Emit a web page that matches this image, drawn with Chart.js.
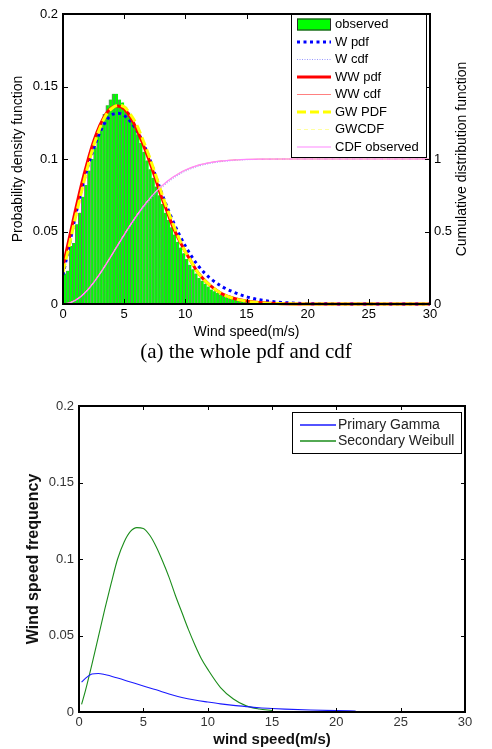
<!DOCTYPE html>
<html><head><meta charset="utf-8">
<script src="https://cdn.jsdelivr.net/npm/chart.js@4/dist/chart.umd.min.js"></script>
<style>
html,body{margin:0;padding:0;background:#fff;width:492px;height:749px;overflow:hidden;}
#c1wrap{position:absolute;left:0;top:0;width:492px;height:345px;}
#c2wrap{position:absolute;left:0;top:370px;width:492px;height:379px;}
#cap{position:absolute;left:0;width:492px;top:340px;text-align:center;font-family:'Liberation Serif','Times New Roman',serif;font-size:21px;line-height:23px;color:#000;}
</style></head><body>
<div id="c1wrap"><canvas id="c1" width="492" height="345"></canvas></div>
<div id="cap">(a) the whole pdf and cdf</div>
<div id="c2wrap"><canvas id="c2" width="492" height="379"></canvas></div>
<script>
// ---------- DATA (top chart) ----------
const histCenters = [0.125,0.375,0.625,0.875,1.125,1.375,1.625,1.875,2.125,2.375,2.625,2.875,3.125,3.375,3.625,3.875,
  4.125,4.375,4.625,4.875,5.125,5.375,5.625,5.875,6.125,6.375,6.625,6.875,7.125,7.375,7.625,7.875,
  8.125,8.375,8.625,8.875,9.125,9.375,9.625,9.875,10.125,10.375,10.625,10.875,11.125,11.375,11.625,11.875,
  12.125,12.375,12.625,12.875,13.125,13.375,13.625,13.875,14.125,14.375,14.625,14.875,15.125,15.375,15.625,15.875,
  16.125,16.375,16.625,16.875,17.125,17.375,17.625,17.875];
const observed = [0.021,0.023,0.040,0.042,0.055,0.063,0.074,0.082,0.092,0.100,0.108,0.116,0.124,0.131,0.137,0.141,
  0.145,0.145,0.141,0.139,0.136,0.132,0.127,0.122,0.117,0.111,0.105,0.099,0.093,0.087,0.081,0.075,
  0.069,0.063,0.058,0.053,0.048,0.043,0.039,0.035,0.031,0.027,0.024,0.021,0.018,0.016,0.014,0.012,
  0.010,0.0088,0.0076,0.0065,0.0055,0.0047,0.004,0.0034,0.0029,0.0024,0.002,0.0017,0.0014,0.0012,0.001,0.0008,
  0.0007,0.0006,0.0005,0.0004,0.0003,0.0003,0.0002,0.0002];

const pdfX  = [0,0.5,1,1.5,2,2.5,3,3.5,4,4.5,5,5.5,6,6.5,7,7.5,8,8.5,9,9.5,10,10.5,11,11.5,12,13,14,15,16,17,18,20,22,25,30];
const wPdf  = [0.020,0.040,0.060,0.078,0.094,0.107,0.118,0.126,0.1305,0.1315,0.130,0.126,0.120,0.112,0.102,0.090,0.078,0.067,0.057,0.048,0.040,0.033,0.027,0.022,0.018,0.012,0.008,0.005,0.003,0.0018,0.001,0.0003,0.0001,0,0];
const wwPdf = [0.026,0.045,0.064,0.082,0.098,0.112,0.123,0.131,0.1355,0.1365,0.1345,0.129,0.121,0.111,0.100,0.088,0.075,0.064,0.053,0.044,0.036,0.029,0.022,0.017,0.013,0.007,0.0038,0.002,0.001,0.0005,0.0002,0.00005,0,0,0];
const gwPdf = [0.022,0.040,0.059,0.077,0.094,0.109,0.121,0.130,0.135,0.137,0.136,0.131,0.124,0.114,0.103,0.091,0.078,0.066,0.055,0.045,0.036,0.029,0.022,0.017,0.013,0.007,0.0037,0.0019,0.0009,0.0004,0.0002,0,0,0,0];

const cdfX        = [0,0.5,1,1.5,2,2.5,3,3.5,4,4.5,5,5.5,6,6.5,7,7.5,8,8.5,9,9.5,10,11,12,13,14,15,16,18,20,25,30];
const cdfObserved = [0,0.006,0.024,0.054,0.095,0.146,0.205,0.27,0.338,0.408,0.476,0.543,0.606,0.665,0.718,0.766,0.808,0.845,0.876,0.902,0.924,0.956,0.975,0.987,0.993,0.997,0.999,1,1,1,1];
const wCdf        = [0,0.007,0.026,0.056,0.097,0.148,0.206,0.27,0.336,0.404,0.47,0.535,0.597,0.655,0.707,0.754,0.796,0.833,0.865,0.892,0.915,0.948,0.969,0.982,0.99,0.995,0.997,0.999,1,1,1];
const wwCdf       = [0,0.008,0.028,0.058,0.1,0.152,0.211,0.276,0.344,0.414,0.482,0.548,0.61,0.668,0.72,0.767,0.808,0.844,0.875,0.901,0.923,0.955,0.975,0.987,0.994,0.997,0.999,1,1,1,1];
const gwCdf       = [0,0.007,0.026,0.056,0.098,0.149,0.208,0.272,0.34,0.41,0.479,0.546,0.609,0.667,0.72,0.768,0.81,0.846,0.877,0.903,0.925,0.957,0.976,0.988,0.994,0.997,0.999,1,1,1,1];

const speedTicks = [0,5,10,15,20,25,30];
const pdfTickLabels = ['0','0.05','0.1','0.15','0.2'];
const cdfTickLabels = ['0','0.5','1'];

// ---------- DATA (bottom chart) ----------
const gammaX   = [0.2,0.5,1,1.5,2,3,4,5,6,7,8,9,10,11,12,13,14,15,16,18,20,21.5];
const gammaY   = [0.0195,0.022,0.0248,0.0252,0.0245,0.0222,0.0196,0.0170,0.0145,0.0118,0.0095,0.0078,0.0065,0.0053,0.0043,0.0035,0.0028,0.0023,0.0019,0.0013,0.0009,0.0007];
const weibullX = [0.2,0.5,1,1.5,2,2.5,3,3.5,4,4.5,5,5.5,6,6.5,7,7.5,8,8.5,9,9.5,10,11,12,13,14,15];
const weibullY = [0.005,0.014,0.031,0.049,0.067,0.084,0.100,0.111,0.118,0.1205,0.120,0.1155,0.108,0.0985,0.088,0.076,0.065,0.054,0.044,0.035,0.028,0.016,0.0085,0.004,0.002,0.001];

const pts = (xs, ys) => xs.map((x, i) => ({x: x, y: ys[i]}));

Chart.defaults.font.family = '"Liberation Sans", Arial, sans-serif';
Chart.defaults.color = '#000';

function frameTicks(tickLen, frameW) {
  return {
    id: 'frameTicks',
    afterDatasetsDraw(chart) {
      const ctx = chart.ctx, a = chart.chartArea, s = chart.scales;
      ctx.save();
      ctx.strokeStyle = '#000';
      ctx.lineWidth = 1;
      ctx.beginPath();
      s.x.ticks.forEach(t => {
        const p = Math.round(s.x.getPixelForValue(t.value)) + 0.5;
        ctx.moveTo(p, a.bottom); ctx.lineTo(p, a.bottom - tickLen);
        ctx.moveTo(p, a.top); ctx.lineTo(p, a.top + tickLen);
      });
      s.y.ticks.forEach(t => {
        const p = Math.round(s.y.getPixelForValue(t.value)) + 0.5;
        ctx.moveTo(a.left, p); ctx.lineTo(a.left + tickLen, p);
        if (!s.y2) { ctx.moveTo(a.right, p); ctx.lineTo(a.right - tickLen, p); }
      });
      if (s.y2) {
        s.y2.ticks.forEach(t => {
          const p = Math.round(s.y2.getPixelForValue(t.value)) + 0.5;
          ctx.moveTo(a.right, p); ctx.lineTo(a.right - tickLen, p);
        });
      }
      ctx.stroke();
      ctx.lineWidth = frameW;
      ctx.strokeRect(a.left, a.top, a.right - a.left, a.bottom - a.top);
      ctx.restore();
    }
  };
}

const legendTop = {
  id: 'legendTop',
  afterDraw(chart) {
    const ctx = chart.ctx, a = chart.chartArea;
    const bx = 291, by = a.top, bw = 135, bh = 143;
    ctx.save();
    ctx.fillStyle = '#fff';
    ctx.fillRect(bx, by, bw, bh);
    ctx.strokeStyle = '#000'; ctx.lineWidth = 1;
    ctx.strokeRect(bx + 0.5, by + 0.5, bw, bh);
    ctx.font = '13px "Liberation Sans", Arial, sans-serif';
    ctx.textBaseline = 'middle';
    chart.data.datasets.forEach((ds, i) => {
      const y = by + 10.5 + i * 17.5;
      if (ds.type === 'bar') {
        ctx.fillStyle = ds.backgroundColor;
        ctx.fillRect(297, y - 6, 34, 12);
        ctx.strokeStyle = '#2a2a2a'; ctx.lineWidth = 1; ctx.setLineDash([]);
        ctx.strokeRect(297.5, y - 5.5, 33, 11);
      } else {
        ctx.strokeStyle = ds.borderColor; ctx.lineWidth = ds.borderWidth;
        ctx.setLineDash(ds.borderDash || []);
        ctx.beginPath(); ctx.moveTo(297, y); ctx.lineTo(331, y); ctx.stroke();
        ctx.setLineDash([]);
      }
      ctx.fillStyle = '#000';
      ctx.fillText(ds.label, 335, y);
    });
    // right axis title (reads bottom-to-top)
    ctx.save();
    ctx.translate(462, (a.top + a.bottom) / 2);
    ctx.rotate(-Math.PI / 2);
    ctx.textAlign = 'center';
    ctx.font = '14px "Liberation Sans", Arial, sans-serif';
    ctx.fillText('Cumulative distribution function', 0, 0);
    ctx.restore();
    ctx.restore();
  }
};

const legendBottom = {
  id: 'legendBottom',
  afterDraw(chart) {
    const ctx = chart.ctx;
    const bx = 292, by = 42, bw = 169, bh = 41;
    ctx.save();
    ctx.fillStyle = '#fff';
    ctx.fillRect(bx, by, bw, bh);
    ctx.strokeStyle = '#000'; ctx.lineWidth = 1;
    ctx.strokeRect(bx + 0.5, by + 0.5, bw, bh);
    ctx.font = '14px "Liberation Sans", Arial, sans-serif';
    ctx.textBaseline = 'middle';
    chart.data.datasets.forEach((ds, i) => {
      const y = by + 13 + i * 16;
      ctx.strokeStyle = ds.borderColor; ctx.lineWidth = 1.3;
      ctx.beginPath(); ctx.moveTo(300, y); ctx.lineTo(336, y); ctx.stroke();
      ctx.fillStyle = '#222';
      ctx.fillText(ds.label, 338, y);
    });
    ctx.restore();
  }
};

new Chart(document.getElementById('c1'), {
  type: 'line',
  data: {
    datasets: [
      { type: 'bar', label: 'observed', data: pts(histCenters, observed), backgroundColor: '#00ff00',
        borderColor: 'rgba(70,70,70,0.75)', borderWidth: {left: 1, right: 0, top: 0, bottom: 0}, borderSkipped: false,
        barPercentage: 1, categoryPercentage: 1, grouped: false, order: 100, yAxisID: 'y' },
      { label: 'W pdf', data: pts(pdfX, wPdf), borderColor: '#0000ff', borderWidth: 3, borderDash: [3, 3.5], order: 7, yAxisID: 'y', clip: {left: 0, top: 0, right: 0, bottom: 2} },
      { label: 'W cdf', data: pts(cdfX, wCdf), borderColor: '#9999ff', borderWidth: 1, borderDash: [1, 1.5], order: 6, yAxisID: 'y2' },
      { label: 'WW pdf', data: pts(pdfX, wwPdf), borderColor: '#ff0000', borderWidth: 3, order: 5, yAxisID: 'y', clip: {left: 0, top: 0, right: 0, bottom: 2} },
      { label: 'WW cdf', data: pts(cdfX, wwCdf), borderColor: '#ff8080', borderWidth: 1, order: 4, yAxisID: 'y2' },
      { label: 'GW PDF', data: pts(pdfX, gwPdf), borderColor: '#ffff00', borderWidth: 3, borderDash: [9, 4], order: 3, yAxisID: 'y', clip: {left: 0, top: 0, right: 0, bottom: 2} },
      { label: 'GWCDF', data: pts(cdfX, gwCdf), borderColor: '#ffffa0', borderWidth: 1, borderDash: [4, 3], order: 2, yAxisID: 'y2' },
      { label: 'CDF observed', data: pts(cdfX, cdfObserved), borderColor: '#ff88ff', borderWidth: 1.2, order: 1, yAxisID: 'y2' }
    ]
  },
  options: {
    responsive: false, animation: false, devicePixelRatio: 1,
    layout: { padding: { top: 14, left: 0, right: 0, bottom: 0 } },
    elements: { point: { radius: 0 }, line: { cubicInterpolationMode: 'monotone' } },
    plugins: { legend: { display: false }, tooltip: { enabled: false } },
    scales: {
      x: { type: 'linear', min: 0, max: 30, offset: false,
        afterBuildTicks(s) { s.ticks = speedTicks.map(v => ({value: v})); },
        ticks: { padding: 3, font: { size: 13 }, color: '#000', maxRotation: 0, autoSkip: false },
        grid: { display: false, drawTicks: false }, border: { display: false },
        title: { display: true, text: 'Wind speed(m/s)', font: { size: 14 }, color: '#000', padding: { top: 0, bottom: 4 } },
        afterFit(s) { s.height = 41; } },
      y: { type: 'linear', position: 'left', min: 0, max: 0.2,
        afterBuildTicks(s) { s.ticks = pdfTickLabels.map(v => ({value: parseFloat(v)})); },
        ticks: { padding: 5, font: { size: 13 }, color: '#000', callback: (v) => pdfTickLabels.find(l => parseFloat(l) === v) },
        grid: { display: false, drawTicks: false }, border: { display: false },
        title: { display: true, text: 'Probability density function', font: { size: 14 }, color: '#000', padding: { top: 10, bottom: 0 } },
        afterFit(s) { s.width = 63; } },
      y2: { type: 'linear', position: 'right', min: 0, max: 2,
        ticks: { stepSize: 0.5, padding: 4, font: { size: 13 }, color: '#000',
          callback: (v) => { const l = cdfTickLabels.find(t => parseFloat(t) === v); return l === undefined ? '' : l; } },
        grid: { display: false, drawTicks: false }, border: { display: false },
        afterFit(s) { s.width = 62; } }
    }
  },
  plugins: [frameTicks(5, 2), legendTop]
});

new Chart(document.getElementById('c2'), {
  type: 'line',
  data: {
    datasets: [
      { label: 'Primary Gamma', data: pts(gammaX, gammaY), borderColor: '#1a1aff', borderWidth: 1.1 },
      { label: 'Secondary Weibull', data: pts(weibullX, weibullY), borderColor: '#1a8c1a', borderWidth: 1.1 }
    ]
  },
  options: {
    responsive: false, animation: false, devicePixelRatio: 1,
    layout: { padding: { top: 36, left: 0, right: 27, bottom: 0 } },
    elements: { point: { radius: 0 }, line: { cubicInterpolationMode: 'monotone' } },
    plugins: { legend: { display: false }, tooltip: { enabled: false } },
    scales: {
      x: { type: 'linear', min: 0, max: 30, offset: false,
        afterBuildTicks(s) { s.ticks = speedTicks.map(v => ({value: v})); },
        ticks: { padding: 3, font: { size: 13 }, color: '#333', maxRotation: 0, autoSkip: false },
        grid: { display: false, drawTicks: false }, border: { display: false },
        title: { display: true, text: 'wind speed(m/s)', font: { size: 15, weight: 'bold' }, color: '#111', padding: { top: 0, bottom: 0 } },
        afterFit(s) { s.height = 37; } },
      y: { type: 'linear', position: 'left', min: 0, max: 0.2,
        afterBuildTicks(s) { s.ticks = pdfTickLabels.map(v => ({value: parseFloat(v)})); },
        ticks: { padding: 5, font: { size: 13 }, color: '#333', callback: (v) => pdfTickLabels.find(l => parseFloat(l) === v) },
        grid: { display: false, drawTicks: false }, border: { display: false },
        title: { display: true, text: 'Wind speed frequency', font: { size: 16, weight: 'bold' }, color: '#111', padding: { top: 24, bottom: 0 } },
        afterFit(s) { s.width = 79; } }
    }
  },
  plugins: [frameTicks(4, 2), legendBottom]
});
</script>
</body></html>
